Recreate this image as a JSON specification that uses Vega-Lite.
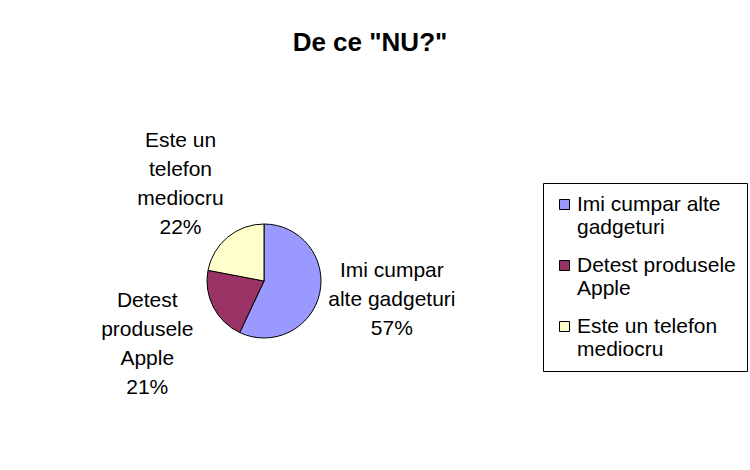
{
  "$schema": "https://vega.github.io/schema/vega-lite/v6.json",
  "autosize": "none",
  "width": 528,
  "height": 378,
  "padding": {"left": 0, "top": 92, "right": 222, "bottom": 0},
  "background": "white",
  "title": {"text": "De ce \"NU?\"", "anchor": "middle", "dx": 106, "offset": 36, "fontSize": 26, "fontWeight": "bold", "font": "Liberation Sans", "color": "black"},
  "data": {
    "values": [
      {"motiv": "Imi cumpar alte gadgeturi", "procent": 57, "ordine": 1, "eticheta": ["Imi cumpar", "alte gadgeturi", "57%"]},
      {"motiv": "Detest produsele Apple", "procent": 21, "ordine": 2, "eticheta": ["Detest", "produsele", "Apple", "21%"]},
      {"motiv": "Este un telefon mediocru", "procent": 22, "ordine": 3, "eticheta": ["Este un", "telefon", "mediocru", "22%"]}
    ]
  },
  "encoding": {
    "theta": {"field": "procent", "type": "quantitative", "stack": true},
    "order": {"field": "ordine", "type": "quantitative"}
  },
  "layer": [
    {
      "mark": {"type": "arc", "outerRadius": 57, "stroke": "black", "strokeWidth": 1},
      "encoding": {
        "color": {
          "field": "motiv",
          "type": "nominal",
          "scale": {
            "domain": ["Imi cumpar alte gadgeturi", "Detest produsele Apple", "Este un telefon mediocru"],
            "range": ["#9999FF", "#993366", "#FFFFCC"]
          },
          "legend": {
            "title": null,
            "orient": "none",
            "legendX": 543,
            "legendY": 91,
            "strokeColor": "black",
            "fillColor": "white",
            "padding": 11,
            "symbolType": "square",
            "symbolSize": 100,
            "symbolStrokeColor": "black",
            "symbolStrokeWidth": 1,
            "symbolOpacity": 1,
            "labelFont": "Liberation Sans",
            "labelFontSize": 21,
            "labelColor": "black",
            "labelLimit": 300,
            "labelOffset": 2,
            "labelExpr": "datum.label == 'Imi cumpar alte gadgeturi' ? ['Imi cumpar alte', 'gadgeturi'] : datum.label == 'Detest produsele Apple' ? ['Detest produsele', 'Apple'] : ['Este un telefon', 'mediocru']",
            "rowPadding": 16
          }
        }
      }
    },
    {
      "mark": {"type": "text", "radius": 131, "dy": -39, "font": "Liberation Sans", "fontSize": 21, "lineHeight": 29, "align": "center", "baseline": "middle", "color": "black"},
      "encoding": {
        "text": {"field": "eticheta", "type": "nominal"}
      }
    }
  ],
  "config": {"view": {"stroke": null}}
}
